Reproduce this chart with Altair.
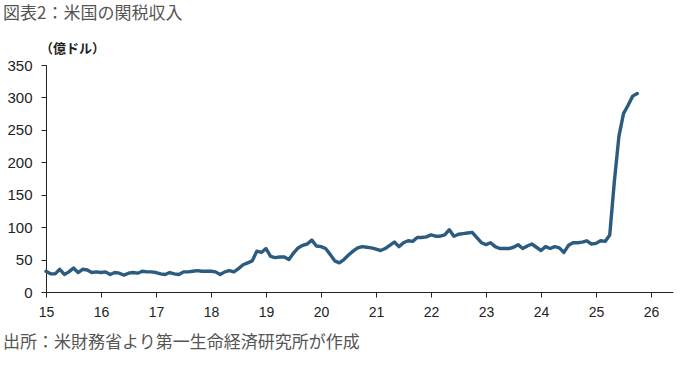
import altair as alt
import pandas as pd

# Monthly US customs duties (100 million USD), Jan 2015 - Oct 2025
v2015 = [32, 28, 28, 35, 27, 31, 37, 30, 35, 34, 30, 31]
v2016 = [30, 31, 27, 30, 29, 26, 29, 30, 29, 32, 31, 31]
v2017 = [30, 28, 27, 30, 28, 27, 31, 31, 32, 33, 32, 32]
v2018 = [32, 31, 27, 31, 33, 31, 36, 42, 45, 48, 63, 61]
v2019 = [67, 55, 53, 54, 54, 50, 60, 68, 72, 74, 80, 71]
v2020 = [70, 67, 58, 48, 45, 50, 57, 63, 68, 70, 69, 68]
v2021 = [66, 64, 67, 72, 77, 70, 76, 79, 78, 84, 84, 85]
v2022 = [88, 86, 86, 88, 96, 86, 89, 90, 91, 92, 84, 76]
v2023 = [73, 76, 70, 67, 67, 67, 69, 73, 67, 71, 74, 69]
v2024 = [64, 70, 67, 70, 68, 61, 72, 76, 76, 77, 79, 74]
v2025 = [75, 79, 78, 88, 170, 240, 275, 288, 302, 306]

series = [v2015, v2016, v2017, v2018, v2019, v2020, v2021, v2022, v2023, v2024, v2025]
start_year = 15

rows = []
for yi, vals in enumerate(series):
    for mi, v in enumerate(vals):
        rows.append({"t": start_year + yi + mi / 12.0, "v": v})
df = pd.DataFrame(rows)

x_ticks = list(range(15, 27))
y_ticks = list(range(0, 351, 50))

title_text = "図表2：米国の関税収入"
unit_text = "（億ドル）"
source_text = "出所：米財務省より第一生命経済研究所が作成"

num_font = "Liberation Sans"
jp_font = "Noto Sans CJK JP"

line = alt.Chart(df).mark_line(
    color="#2B5B7E", strokeWidth=3.4, strokeJoin="round", strokeCap="round"
).encode(
    x=alt.X("t:Q",
            scale=alt.Scale(domain=[15, 26.4], nice=False, zero=False),
            axis=alt.Axis(values=x_ticks, format="d", title=None, grid=False,
                          domainColor="#222", tickColor="#222", tickSize=5,
                          labelPadding=8, labelFontSize=14, labelFont=num_font,
                          labelColor="#222", labelFlush=False)),
    y=alt.Y("v:Q",
            scale=alt.Scale(domain=[0, 350], nice=False),
            axis=alt.Axis(values=y_ticks, title=None, grid=False,
                          domainColor="#222", tickColor="#222", tickSize=5,
                          labelPadding=9, labelFontSize=15, labelFont=num_font,
                          labelColor="#222"))
)

title = alt.Chart(pd.DataFrame({"s": [title_text]})).mark_text(
    align="left", baseline="top", font=jp_font, fontSize=17, color="#555"
).encode(text="s:N", x=alt.value(-43), y=alt.value(-59))

unit = alt.Chart(pd.DataFrame({"s": [unit_text]})).mark_text(
    align="left", baseline="middle", font=jp_font, fontSize=13, color="#222",
    fontWeight="bold"
).encode(text="s:N", x=alt.value(-6), y=alt.value(-16))

source = alt.Chart(pd.DataFrame({"s": [source_text]})).mark_text(
    align="left", baseline="middle", font=jp_font, fontSize=17, color="#555"
).encode(text="s:N", x=alt.value(-43), y=alt.value(278))

chart = alt.layer(line, title, unit, source).properties(
    width=627, height=227,
    autosize=alt.AutoSizeParams(type="none"),
    padding={"left": 46, "top": 65, "right": 7, "bottom": 75},
    background="white"
).configure_view(stroke=None)

chart.save("out.html", embed_options={"renderer": "svg", "actions": False})
